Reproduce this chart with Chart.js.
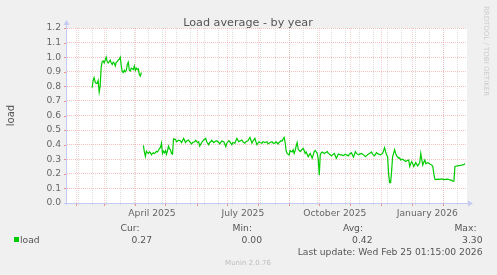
<!DOCTYPE html>
<html>
<head>
<meta charset="utf-8">
<title>Load average - by year</title>
<script src="https://cdn.jsdelivr.net/npm/chart.js@4.4.0/dist/chart.umd.min.js"></script>
<style>
	html, body { margin: 0; padding: 0; background: #f0f0f0; }
	canvas { display: block; }
</style>
</head>
<body>
<canvas id="myChart" width="497" height="275"></canvas>
<script>
// days counted from 2025-02-01, one load value per day (null = no data)
var days = [
	16, 17, 18, 19, 20, 21, 22, 23, 24, 25,
	26, 27, 28, 29, 30, 31, 32, 33, 34, 35,
	36, 37, 38, 39, 40, 41, 42, 43, 44, 45,
	46, 47, 48, 49, 50, 51, 52, 53, 54, 55,
	56, 57, 58, 59, 60, 61, 62, 63, 64, 65,
	66,
	67, 68, 69, 70, 71, 72, 73, 74, 75, 76,
	77, 78, 79, 80, 81, 82, 83, 84, 85, 86,
	87, 88, 89, 90, 91, 92, 93, 94, 95, 96,
	97, 99, 100, 102, 104, 105, 107, 109, 110, 112,
	113, 115, 116, 118, 119, 121, 122, 123, 125, 127,
	129, 130, 132, 133, 134, 135, 137, 138, 140, 142,
	143, 145, 147, 149, 150, 152, 153, 155, 156, 158,
	160, 162, 163, 165, 166, 168, 169, 171, 173, 174,
	175, 176, 178, 179, 180, 182, 183, 185, 186, 188,
	190, 191, 193, 195, 196, 198, 199, 201, 202, 204,
	205, 207, 208, 209, 210, 212, 213, 215, 216, 217,
	218, 219, 220, 221, 223, 224, 226, 227, 228, 229,
	231, 232, 233, 235, 236, 237, 238, 240, 241, 242,
	243, 244, 245, 247, 248, 250, 251, 252, 253, 254,
	256, 257, 259, 260, 261, 263, 264, 266, 268, 269,
	271, 272, 274, 275, 276, 278, 279, 281, 282, 284,
	286, 288, 289, 291, 292, 294, 295, 297, 298, 299,
	301, 303, 305, 307, 308, 309, 310, 311, 312, 313,
	314, 315, 317, 318, 319, 321, 322, 323, 325, 326,
	328, 329, 331, 332, 333, 334, 335, 336, 338, 339,
	340, 342, 343, 344, 345, 346, 347, 348, 350, 352,
	354, 355, 356, 357, 358, 360, 362, 364, 366, 368,
	370, 372, 374, 375, 376, 377, 378, 380, 382, 384,
	386, 387
];
var load = [
	0.79, 0.84, 0.86, 0.83, 0.82, 0.82, 0.84, 0.76, 0.80, 0.93,
	0.97, 0.975, 0.96, 0.98, 1.00, 0.97, 0.96, 0.97, 0.98, 0.96,
	0.95, 0.965, 0.96, 0.94, 0.965, 0.97, 0.98, 0.985, 1.00, 0.94,
	0.90, 0.895, 0.91, 0.90, 0.91, 0.95, 0.965, 0.91, 0.905, 0.925,
	0.92, 0.915, 0.94, 0.91, 0.925, 0.915, 0.92, 0.88, 0.87, 0.895,
	null,
	0.395, 0.35, 0.32, 0.355, 0.345, 0.34, 0.35, 0.345, 0.33, 0.34,
	0.345, 0.34, 0.345, 0.355, 0.35, 0.36, 0.375, 0.38, 0.41, 0.34,
	0.355, 0.345, 0.36, 0.335, 0.36, 0.39, 0.37, 0.365, 0.34, 0.335,
	0.44, 0.435, 0.42, 0.43, 0.425, 0.415, 0.443, 0.414, 0.425, 0.432,
	0.42, 0.405, 0.415, 0.42, 0.43, 0.414, 0.42, 0.39, 0.415, 0.432,
	0.443, 0.42, 0.40, 0.415, 0.42, 0.43, 0.414, 0.42, 0.427, 0.415,
	0.405, 0.425, 0.42, 0.386, 0.41, 0.427, 0.42, 0.40, 0.415, 0.41,
	0.443, 0.42, 0.425, 0.432, 0.42, 0.41, 0.42, 0.427, 0.45, 0.43,
	0.41, 0.425, 0.443, 0.42, 0.40, 0.42, 0.415, 0.41, 0.42, 0.414,
	0.42, 0.405, 0.415, 0.42, 0.41, 0.41, 0.42, 0.405, 0.415, 0.427,
	0.425, 0.45, 0.42, 0.36, 0.34, 0.33, 0.36, 0.35, 0.365, 0.34,
	0.36, 0.39, 0.414, 0.37, 0.352, 0.36, 0.375, 0.36, 0.34, 0.35,
	0.318, 0.33, 0.34, 0.307, 0.33, 0.352, 0.36, 0.34, 0.30, 0.19,
	0.33, 0.345, 0.35, 0.34, 0.345, 0.352, 0.34, 0.336, 0.33, 0.323,
	0.335, 0.34, 0.307, 0.32, 0.336, 0.33, 0.33, 0.325, 0.334, 0.33,
	0.323, 0.335, 0.345, 0.33, 0.314, 0.352, 0.34, 0.33, 0.335, 0.34,
	0.33, 0.318, 0.325, 0.336, 0.34, 0.35, 0.335, 0.323, 0.335, 0.345,
	0.335, 0.33, 0.34, 0.38, 0.35, 0.33, 0.318, 0.20, 0.14, 0.14,
	0.22, 0.318, 0.365, 0.34, 0.323, 0.307, 0.31, 0.295, 0.30, 0.295,
	0.284, 0.29, 0.295, 0.25, 0.27, 0.284, 0.27, 0.25, 0.277, 0.265,
	0.255, 0.277, 0.34, 0.30, 0.26, 0.28, 0.295, 0.27, 0.277, 0.268,
	0.26, 0.25, 0.20, 0.164, 0.16, 0.164, 0.162, 0.165, 0.16, 0.162,
	0.164, 0.158, 0.155, 0.148, 0.15, 0.25, 0.252, 0.255, 0.258, 0.26,
	0.265, 0.268
];

var monthStarts = ['2025-02-01', '2025-03-01', '2025-04-01', '2025-05-01', '2025-06-01', '2025-07-01',
	'2025-08-01', '2025-09-01', '2025-10-01', '2025-11-01', '2025-12-01', '2026-01-01', '2026-02-01'];
var monthLabels = ['April 2025', 'July 2025', 'October 2025', 'January 2026'];
var labelDays = [75.5, 166, 257.5, 349.5];

var statNames = ['Cur:', 'Min:', 'Avg:', 'Max:'];
var statValues = ['0.27', '0.00', '0.42', '3.30'];

var FONT = '"DejaVu Sans", sans-serif';

function dayOf(s) {
	return (Date.parse(s) - Date.parse('2025-02-01')) / 86400000;
}

var muninPlugin = {
	id: 'munin',
	beforeDraw: function (chart) {
		var c = chart.ctx, a = chart.chartArea;
		c.save();
		c.fillStyle = '#f0f0f0';
		c.fillRect(0, 0, chart.width, chart.height);
		c.fillStyle = '#ffffff';
		c.fillRect(a.left, a.top, a.right - a.left, a.bottom - a.top);
		c.restore();
	},
	beforeDatasetsDraw: function (chart) {
		var c = chart.ctx, a = chart.chartArea, xs = chart.scales.x, ys = chart.scales.y;
		c.save();
		c.lineWidth = 1;
		// minor grid, every two weeks
		c.strokeStyle = 'rgba(195,195,195,0.55)';
		for (var d = 1.5; d < xs.max; d += 14) {
			var px = Math.round(xs.getPixelForValue(d)) + 0.5;
			c.setLineDash([1, 1]);
			c.beginPath(); c.moveTo(px, a.top); c.lineTo(px, a.bottom); c.stroke();
			c.setLineDash([]);
			c.beginPath(); c.moveTo(px, a.bottom); c.lineTo(px, a.bottom + 2); c.stroke();
		}
		// major grid, month starts
		monthStarts.forEach(function (s) {
			var px = Math.round(xs.getPixelForValue(dayOf(s))) + 0.5;
			c.strokeStyle = 'rgba(235,140,140,0.42)';
			c.setLineDash([1, 1]);
			c.beginPath(); c.moveTo(px, a.top); c.lineTo(px, a.bottom); c.stroke();
			c.setLineDash([]);
			c.strokeStyle = 'rgba(235,120,120,0.8)';
			c.beginPath(); c.moveTo(px, a.bottom); c.lineTo(px, a.bottom + 3); c.stroke();
		});
		// small ticks left of the y axis
		c.strokeStyle = 'rgba(235,120,120,0.8)';
		ys.ticks.forEach(function (t) {
			var py = Math.round(ys.getPixelForValue(t.value)) + 0.5;
			c.beginPath(); c.moveTo(a.left - 3, py); c.lineTo(a.left, py); c.stroke();
		});
		// axes with arrows
		var ax = a.left - 0.5, ay = Math.round(a.bottom) + 0.5;
		c.strokeStyle = '#c4cbf2';
		c.fillStyle = '#c4cbf2';
		c.beginPath(); c.moveTo(ax, a.bottom + 2); c.lineTo(ax, a.top - 4); c.stroke();
		c.beginPath(); c.moveTo(a.left - 3, ay); c.lineTo(a.right + 2, ay); c.stroke();
		c.beginPath(); c.moveTo(ax - 3, a.top - 3); c.lineTo(ax + 3, a.top - 3); c.lineTo(ax, a.top - 8); c.closePath(); c.fill();
		c.beginPath(); c.moveTo(a.right + 1, ay - 3); c.lineTo(a.right + 1, ay + 3); c.lineTo(a.right + 6, ay); c.closePath(); c.fill();
		c.restore();
	},
	afterDraw: function (chart) {
		var c = chart.ctx;
		c.save();
		c.textBaseline = 'alphabetic';
		// title
		c.fillStyle = '#555555';
		c.font = '11.2px ' + FONT;
		c.textAlign = 'center';
		c.fillText('Load average - by year', 248, 25.5);
		// legend
		c.font = '9.2px ' + FONT;
		c.textAlign = 'right';
		var rights = [139.5, 252, 363, 476.5];
		var valRights = [152, 262, 372.5, 482.5];
		statNames.forEach(function (s, i) { c.fillText(s, rights[i], 231); });
		statValues.forEach(function (s, i) { c.fillText(s, valRights[i], 243); });
		c.fillText('Last update: Wed Feb 25 01:15:00 2026', 482.5, 254.5);
		c.fillStyle = '#00cc00';
		c.fillRect(14, 237, 5, 5);
		c.fillStyle = '#555555';
		c.textAlign = 'left';
		c.fillText('load', 20, 243);
		// footer
		c.fillStyle = '#bdbdbd';
		c.font = '7px ' + FONT;
		c.textAlign = 'center';
		c.fillText('Munin 2.0.76', 248, 265);
		// watermark
		c.fillStyle = '#cccccc';
		c.translate(484, 51);
		c.rotate(Math.PI / 2);
		c.fillText('RRDTOOL / TOBI OETIKER', 0, 0);
		c.restore();
	}
};

document.addEventListener("DOMContentLoaded", function (event) {
	Chart.defaults.font.family = FONT;
	var ctx = document.getElementById('myChart');
	var myChart = new Chart(ctx, {
		type: 'line',
		data: {
			datasets: [{
				label: 'load',
				data: days.map(function (d, i) { return { x: d, y: load[i] }; }),
				borderColor: '#00cc00',
				backgroundColor: '#00cc00',
				borderWidth: 1.2,
				pointRadius: 0,
				tension: 0,
				spanGaps: false
			}]
		},
		options: {
			responsive: false,
			animation: false,
			layout: {
				padding: { left: 1, top: 28, right: 30, bottom: 52 }
			},
			plugins: {
				legend: { display: false },
				tooltip: { enabled: false }
			},
			scales: {
				x: {
					type: 'linear',
					min: -9,
					max: 389,
					grid: { display: false, drawTicks: false },
					border: { display: false },
					afterBuildTicks: function (scale) {
						scale.ticks = labelDays.map(function (v) { return { value: v }; });
					},
					afterFit: function (scale) { scale.height = 20; },
					ticks: {
						autoSkip: false,
						maxRotation: 0,
						padding: 5,
						color: '#666666',
						font: { size: 9.2 },
						callback: function (v, i) { return monthLabels[i]; }
					}
				},
				y: {
					min: 0,
					max: 1.2,
					grid: {
						color: 'rgba(235,130,130,0.5)',
						drawTicks: false,
						lineWidth: 1
					},
					border: { display: false, dash: [1, 1] },
					afterFit: function (scale) { scale.width = 66; },
					ticks: {
						stepSize: 0.1,
						padding: 6,
						color: '#666666',
						font: { size: 9.2 },
						callback: function (v) { return v.toFixed(1); }
					},
					title: {
						display: true,
						text: 'load',
						color: '#555555',
						font: { size: 10 },
						padding: { top: 4, bottom: 0 }
					}
				}
			}
		},
		plugins: [muninPlugin]
	});
});
</script>
</body>
</html>
